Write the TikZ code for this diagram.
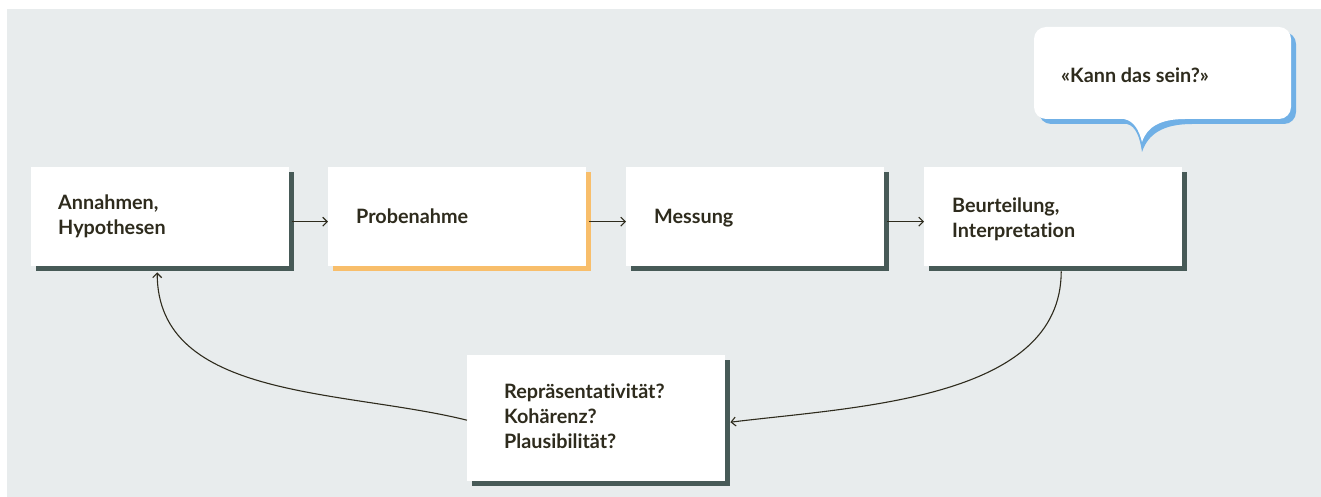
\documentclass[tikz,border=0pt]{standalone}
\usepackage{fontspec}
\setmainfont{Lato}[Ligatures=NoCommon]
\usetikzlibrary{arrows.meta,shadows}

\definecolor{bgcol}{HTML}{E8ECED}
\definecolor{slate}{HTML}{475A57}
\definecolor{apricot}{HTML}{F8BE6B}
\definecolor{sky}{HTML}{70B0E6}
\definecolor{ink}{HTML}{2E2B1D}

\tikzset{
  card/.style={rectangle, fill=white, inner sep=0pt, anchor=north west,
    minimum width=258pt, minimum height=99pt,
    drop shadow={shadow xshift=5pt, shadow yshift=-5pt, fill=slate, opacity=1}},
  orangecard/.style={card,
    drop shadow={shadow xshift=5pt, shadow yshift=-5pt, fill=apricot, opacity=1}},
  % base anchor of a multi-line label sits on its last line
  lbl/.style={anchor=base west, inner sep=0pt, align=left, text=ink,
    font=\fontsize{19.8}{25}\selectfont\bfseries},
  conn/.style={draw=ink, line width=1.1pt,
    -{Straight Barb[length=4.5pt,width=9pt]}},
}

\begin{document}
\begin{tikzpicture}[x=1pt,y=1pt]
  \useasboundingbox (0,0) rectangle (1321,-497);
  \fill[bgcol] (7,-9) rectangle (1321,-497);

  % process steps
  \node[card] (b1) at (31,-167) {};
  \node[orangecard] (b2) at (328,-167) {};
  \node[card] (b3) at (626,-167) {};
  \node[card] (b4) at (924,-167) {};
  \node[card, minimum height=126pt] (b5) at (467,-355) {};

  \node[lbl] (t1) at (58,-234) {Annahmen,\\Hypothesen};
  \node[lbl] (t2) at (356,-223) {Probenahme};
  \node[lbl] (t3) at (654,-223) {Messung};
  \node[lbl] (t4) at (952,-237) {Beurteilung,\\Interpretation};
  \node[lbl] (t5) at (504,-448) {Repräsentativität?\\Kohärenz?\\Plausibilität?};

  % speech bubble: blue offset outline, then the white bubble
  \fill[sky] (1051,-32) -- (1284,-32) arc[start angle=90,end angle=0,radius=12]
    -- (1296,-112) arc[start angle=0,end angle=-90,radius=12]
    -- (1192,-124) .. controls (1163,-124) and (1148,-134) .. (1142,-152)
    .. controls (1140,-138) and (1136,-126) .. (1127,-124)
    -- (1051,-124) arc[start angle=270,end angle=180,radius=12]
    -- (1039,-44) arc[start angle=180,end angle=90,radius=12] -- cycle;
  \fill[white] (1046,-27) -- (1279,-27) arc[start angle=90,end angle=0,radius=12]
    -- (1291,-107) arc[start angle=0,end angle=-90,radius=12]
    -- (1185,-119) .. controls (1160,-119) and (1147,-127) .. (1142,-142)
    .. controls (1139,-130) and (1134,-121) .. (1124,-119)
    -- (1046,-119) arc[start angle=270,end angle=180,radius=12]
    -- (1034,-39) arc[start angle=180,end angle=90,radius=12] -- cycle;
  \node[lbl] (q) at (1061,-83) {«Kann das sein?»};

  % connectors
  \draw[conn] ([shift={(3,-5)}]b1.east) -- ([yshift=-5]b2.west);
  \draw[conn] ([shift={(3,-5)}]b2.east) -- ([yshift=-5]b3.west);
  \draw[conn] ([shift={(3,-5)}]b3.east) -- ([yshift=-5]b4.west);
  \draw[conn] ([shift={(8,-5)}]b4.south) to[out=-90,in=7,looseness=0.9] ([shift={(5,-4)}]b5.east);
  \draw[conn] ([yshift=-2]b5.west) to[out=166,in=-90,looseness=0.95] ([shift={(-3,-6)}]b1.south);
\end{tikzpicture}
\end{document}
